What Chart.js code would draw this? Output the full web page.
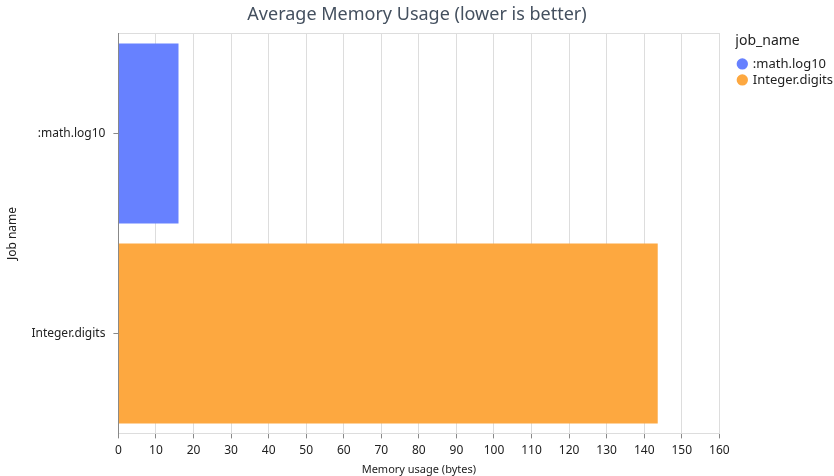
<!DOCTYPE html>
<html>
<head>
<meta charset="utf-8">
<script src="https://cdn.jsdelivr.net/npm/chart.js@4"></script>
<style>
html,body{margin:0;padding:0;background:#fff;}
#wrap{width:834px;height:476px;}
</style>
</head>
<body>
<div id="wrap"><canvas id="c"></canvas></div>
<script>
const categories = [":math.log10", "Integer.digits"];
const memoryBytes = [16, 143.6];
const barColors = ["#6781FF", "#FDA840"];
const xTicks = [0,10,20,30,40,50,60,70,80,90,100,110,120,130,140,150,160];

const FONT = '"Noto Sans", sans-serif';
Chart.defaults.font.family = FONT;

// widen the legend area and move its items right, like the reference layout
const LEGEND_EXTRA = 7;
const LEGEND_SHIFT = 16;
const legendSpacer = {
  id: 'legendSpacer',
  beforeInit(chart) {
    const lg = chart.legend;
    if (lg && !lg._wrapped) {
      const orig = lg.fit;
      lg.fit = function () { orig.call(this); this.width += LEGEND_EXTRA; };
      lg._wrapped = true;
    }
  },
  afterLayout(chart) {
    const lg = chart.legend;
    if (lg) { lg.left += LEGEND_SHIFT; lg.right += LEGEND_SHIFT; }
  }
};

new Chart(document.getElementById('c'), {
  type: 'bar',
  data: {
    labels: categories,
    datasets: [{
      label: 'Memory usage',
      data: memoryBytes,
      backgroundColor: barColors,
      categoryPercentage: 0.9,
      barPercentage: 1.0
    }]
  },
  plugins: [legendSpacer],
  options: {
    indexAxis: 'y',
    responsive: true,
    maintainAspectRatio: false,
    animation: false,
    layout: { padding: { left: 0, right: 0, top: 0, bottom: 0 } },
    plugins: {
      title: {
        display: true,
        text: 'Average Memory Usage (lower is better)',
        color: '#44505f',
        font: { size: 18, weight: 'normal' },
        padding: { top: 4, bottom: 8 }
      },
      legend: {
        position: 'right',
        align: 'start',
        fullSize: false,
        title: { display: true, position: 'start', text: 'job_name', color: '#222', font: { size: 14 }, padding: { top: 0, bottom: 4 } },
        labels: {
          usePointStyle: true,
          pointStyle: 'circle',
          boxWidth: 8, boxHeight: 8,
          padding: 3,
          color: '#222',
          font: { size: 13 },
          generateLabels: (chart) => categories.map((c, i) => ({
            text: c, fillStyle: barColors[i], strokeStyle: barColors[i], lineWidth: 0,
            pointStyle: 'circle', hidden: false, index: i
          }))
        }
      },
      tooltip: { enabled: false }
    },
    scales: {
      x: {
        min: 0, max: 160,
        afterBuildTicks: (s) => { s.ticks = xTicks.map(v => ({ value: v })); },
        grid: { color: '#dddddd', tickColor: '#888', tickLength: 5 },
        border: { color: '#dddddd' },
        ticks: { color: '#222', font: { size: 12 }, maxRotation: 0, autoSkip: false, padding: 5 },
        title: { display: true, text: 'Memory usage (bytes)', color: '#222', font: { size: 11 }, padding: { top: 0, bottom: 0 } }
      },
      xTop: {
        type: 'linear', position: 'top', axis: 'x', min: 0, max: 160,
        grid: { display: false, drawTicks: false },
        ticks: { display: false },
        border: { display: true, color: '#dddddd' }
      },
      y: {
        grid: { offset: false, drawOnChartArea: false, tickColor: '#888', tickLength: 5 },
        border: { color: '#888' },
        ticks: { color: '#222', font: { size: 12 }, padding: 8 },
        title: { display: true, text: 'Job name', color: '#222', font: { size: 12 }, padding: { top: 5, bottom: 4 } }
      }
    }
  }
});
</script>
</body>
</html>
